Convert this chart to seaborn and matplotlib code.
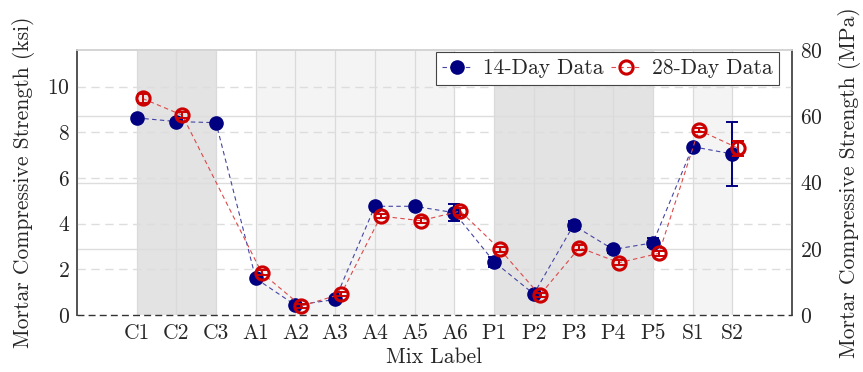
import numpy as np
import pandas as pd
import seaborn as sns
import matplotlib
matplotlib.use("Agg")
import matplotlib.pyplot as plt

# mix labels and groups (for the shaded bands)
mixes = ["C1", "C2", "C3", "A1", "A2", "A3", "A4", "A5", "A6",
         "P1", "P2", "P3", "P4", "P5", "S1", "S2"]
groups = ["C", "C", "C", "A", "A", "A", "A", "A", "A",
          "P", "P", "P", "P", "P", "S", "S"]

# compressive strength, ksi
ksi_14 = [8.63, 8.47, 8.42, 1.60, 0.43, 0.68, 4.76, 4.76, 4.48,
          2.33, 0.92, 3.93, 2.87, 3.16, 7.37, 7.05]
err_14 = [0.08, 0.08, 0.08, 0.10, 0.08, 0.08, 0.10, 0.10, 0.38,
          0.22, 0.08, 0.20, 0.15, 0.20, 0.08, 1.42]
ksi_28 = [9.48, 8.75, np.nan, 1.85, 0.39, 0.92, 4.33, 4.13, 4.55,
          2.87, 0.87, 2.95, 2.29, 2.70, 8.10, 7.30]
err_28 = [0.20, 0.12, np.nan, 0.10, 0.08, 0.10, 0.10, 0.10, 0.15,
          0.10, 0.10, 0.10, 0.10, 0.12, 0.10, 0.32]

KSI_TO_MPA = 6.89476

df = pd.DataFrame({"mix": mixes, "group": groups,
                   "pos": np.arange(len(mixes)),
                   "d14": ksi_14, "e14": err_14,
                   "d28": ksi_28, "e28": err_28})

sns.set_theme(style="white")
plt.rcParams["font.family"] = ["cmr10", "DejaVu Serif"]
plt.rcParams["mathtext.fontset"] = "cm"
plt.rcParams["axes.formatter.use_mathtext"] = True

fig = plt.figure(figsize=(8.63, 3.72), dpi=100)
ax2 = fig.add_axes([0.0892, 0.1532, 0.8285, 0.7124])
ax = ax2.twinx()
ax.yaxis.tick_left()
ax.yaxis.set_label_position("left")
ax2.yaxis.tick_right()
ax2.yaxis.set_label_position("right")

navy = "#000080"
red = "#cc0000"

# background bands per group
band_col = {"C": "#e3e3e3", "A": "#f4f4f4", "P": "#e3e3e3", "S": "#f4f4f4"}
for g in ["C", "A", "P", "S"]:
    sub = df[df.group == g]
    ax2.axvspan(sub.pos.min(), sub.pos.max(), color=band_col[g], lw=0, zorder=0)

# MPa grid (solid) on the right axis
ax2.set_ylim(0, 80)
ax2.set_yticks([0, 20, 40, 60, 80])
for t in [20, 40, 60]:
    ax2.axhline(t, color="#dddddd", lw=1.0, zorder=1)
for p in df.pos:
    ax2.axvline(p, color="#dadada", lw=0.9, zorder=1)

# main data
d14 = df.dropna(subset=["d14"])
d28 = df.dropna(subset=["d28"])
off = 0.15
sns.lineplot(x=d14.pos, y=d14.d14, ax=ax, color="#4545a5", linestyle=(0, (4, 3)), lw=0.8,
             marker="o", markersize=9.5, markerfacecolor=navy, markeredgecolor=navy,
             markeredgewidth=1, label="14-Day Data", zorder=4)
sns.lineplot(x=d28.pos + off, y=d28.d28, ax=ax, color="#dd4a4a", linestyle=(0, (4, 3)), lw=0.8,
             marker="o", markersize=9.5, markerfacecolor="none", markeredgecolor=red,
             markeredgewidth=2.2, label="28-Day Data", zorder=5)
ax.errorbar(d14.pos, d14.d14, yerr=d14.e14, fmt="none", ecolor=navy,
            elinewidth=1.4, capsize=4.5, capthick=1.4, zorder=4)
ax.errorbar(d28.pos + off, d28.d28, yerr=d28.e28, fmt="none", ecolor=red,
            elinewidth=1.4, capsize=4.5, capthick=1.4, zorder=5)

# ksi grid (dashed)
ax.set_ylim(0, 80 / KSI_TO_MPA)
ax.set_yticks([0, 2, 4, 6, 8, 10])
for t in [2, 4, 6, 8, 10]:
    ax.axhline(t, color="#dddddd", lw=1.0, ls=(0, (6, 4)), zorder=1)
ax.axhline(0, color="#333333", lw=1.0, ls=(0, (5, 3)), zorder=6, clip_on=False)

ax.set_xlim(-1.5, 16.5)
ax2.set_xlim(-1.5, 16.5)
ax2.set_xticks(df.pos)
ax2.set_xticklabels(df.mix)
ax.tick_params(axis="both", length=0, labelsize=15.5, pad=5)
ax2.tick_params(axis="both", length=0, labelsize=15.5, pad=6)

ax.set_ylabel("Mortar Compressive Strength (ksi)", fontsize=15.5, labelpad=9)
ax2.set_ylabel("Mortar Compressive Strength (MPa)", fontsize=15.5, labelpad=11)
ax2.set_xlabel("Mix Label", fontsize=15.5, labelpad=3)
ax.set_xlabel("")

for a in (ax, ax2):
    a.spines["bottom"].set_visible(False)
    a.spines["top"].set_color("#d5d5d5")
    a.spines["left"].set_color("#555555")
    a.spines["right"].set_color("#555555")

leg = ax.legend(loc="upper right", bbox_to_anchor=(0.982, 0.992), ncol=2, fontsize=15.5,
                frameon=True, fancybox=False, edgecolor="#444444", framealpha=1,
                borderaxespad=0, handlelength=1.35, columnspacing=0.35,
                handletextpad=0.55, borderpad=0.3)
leg.get_frame().set_linewidth(0.8)

fig.savefig("out.png", dpi=100)
